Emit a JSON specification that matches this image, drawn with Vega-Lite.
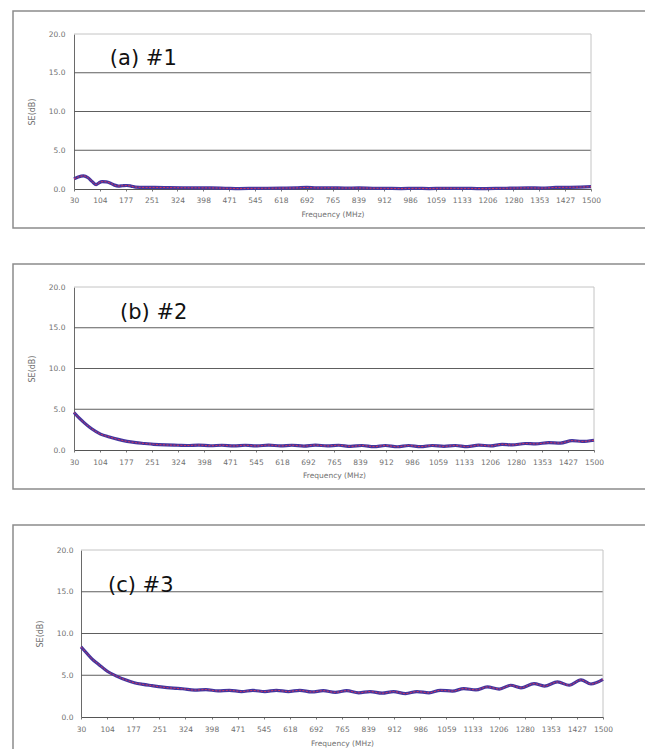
{
  "$schema": "https://vega.github.io/schema/vega-lite/v6.json",
  "padding": {"left": 12, "top": 10, "right": 0, "bottom": 0},
  "background": "white",
  "spacing": 34,
  "config": {
    "view": {"stroke": "#8c8c8c", "strokeWidth": 1.5},
    "font": "DejaVu Sans",
    "axis": {"labelFont": "DejaVu Sans", "labelFontSize": 7.5, "labelColor": "#707070", "titleFont": "DejaVu Sans", "titleFontSize": 7.5, "titleFontWeight": "normal", "titleColor": "#707070", "grid": false, "labelFlush": false, "labelOverlap": false}
  },
  "datasets": {
    "se": [
      {"p": "a", "f": 30, "se": 1.3}, {"p": "a", "f": 42, "se": 1.55}, {"p": "a", "f": 57, "se": 1.7}, {"p": "a", "f": 70, "se": 1.45}, {"p": "a", "f": 82, "se": 0.95}, {"p": "a", "f": 93, "se": 0.55}, {"p": "a", "f": 101, "se": 0.8}, {"p": "a", "f": 110, "se": 0.95}, {"p": "a", "f": 122, "se": 0.92}, {"p": "a", "f": 134, "se": 0.75}, {"p": "a", "f": 145, "se": 0.5}, {"p": "a", "f": 156, "se": 0.38}, {"p": "a", "f": 168, "se": 0.42}, {"p": "a", "f": 180, "se": 0.45}, {"p": "a", "f": 192, "se": 0.38}, {"p": "a", "f": 205, "se": 0.25}, {"p": "a", "f": 230, "se": 0.2}, {"p": "a", "f": 260, "se": 0.2}, {"p": "a", "f": 300, "se": 0.18}, {"p": "a", "f": 340, "se": 0.16}, {"p": "a", "f": 380, "se": 0.15}, {"p": "a", "f": 420, "se": 0.14}, {"p": "a", "f": 460, "se": 0.1}, {"p": "a", "f": 500, "se": 0.06}, {"p": "a", "f": 540, "se": 0.08}, {"p": "a", "f": 580, "se": 0.1}, {"p": "a", "f": 620, "se": 0.12}, {"p": "a", "f": 660, "se": 0.14}, {"p": "a", "f": 692, "se": 0.2}, {"p": "a", "f": 720, "se": 0.14}, {"p": "a", "f": 760, "se": 0.16}, {"p": "a", "f": 800, "se": 0.12}, {"p": "a", "f": 840, "se": 0.14}, {"p": "a", "f": 880, "se": 0.1}, {"p": "a", "f": 920, "se": 0.08}, {"p": "a", "f": 960, "se": 0.06}, {"p": "a", "f": 1000, "se": 0.08}, {"p": "a", "f": 1040, "se": 0.06}, {"p": "a", "f": 1080, "se": 0.1}, {"p": "a", "f": 1120, "se": 0.08}, {"p": "a", "f": 1160, "se": 0.07}, {"p": "a", "f": 1200, "se": 0.05}, {"p": "a", "f": 1240, "se": 0.08}, {"p": "a", "f": 1280, "se": 0.12}, {"p": "a", "f": 1320, "se": 0.15}, {"p": "a", "f": 1360, "se": 0.12}, {"p": "a", "f": 1400, "se": 0.2}, {"p": "a", "f": 1440, "se": 0.22}, {"p": "a", "f": 1470, "se": 0.25}, {"p": "a", "f": 1500, "se": 0.3},
      {"p": "b", "f": 30, "se": 4.6}, {"p": "b", "f": 45, "se": 3.9}, {"p": "b", "f": 60, "se": 3.3}, {"p": "b", "f": 80, "se": 2.6}, {"p": "b", "f": 105, "se": 1.95}, {"p": "b", "f": 130, "se": 1.6}, {"p": "b", "f": 155, "se": 1.3}, {"p": "b", "f": 180, "se": 1.05}, {"p": "b", "f": 205, "se": 0.9}, {"p": "b", "f": 230, "se": 0.8}, {"p": "b", "f": 255, "se": 0.7}, {"p": "b", "f": 290, "se": 0.62}, {"p": "b", "f": 324, "se": 0.58}, {"p": "b", "f": 350, "se": 0.55}, {"p": "b", "f": 382, "se": 0.6}, {"p": "b", "f": 416, "se": 0.52}, {"p": "b", "f": 448, "se": 0.58}, {"p": "b", "f": 482, "se": 0.5}, {"p": "b", "f": 514, "se": 0.58}, {"p": "b", "f": 548, "se": 0.5}, {"p": "b", "f": 580, "se": 0.6}, {"p": "b", "f": 614, "se": 0.5}, {"p": "b", "f": 646, "se": 0.58}, {"p": "b", "f": 680, "se": 0.48}, {"p": "b", "f": 712, "se": 0.6}, {"p": "b", "f": 746, "se": 0.5}, {"p": "b", "f": 778, "se": 0.58}, {"p": "b", "f": 812, "se": 0.45}, {"p": "b", "f": 844, "se": 0.55}, {"p": "b", "f": 878, "se": 0.42}, {"p": "b", "f": 910, "se": 0.55}, {"p": "b", "f": 944, "se": 0.4}, {"p": "b", "f": 976, "se": 0.55}, {"p": "b", "f": 1010, "se": 0.42}, {"p": "b", "f": 1042, "se": 0.55}, {"p": "b", "f": 1076, "se": 0.45}, {"p": "b", "f": 1108, "se": 0.55}, {"p": "b", "f": 1142, "se": 0.42}, {"p": "b", "f": 1174, "se": 0.6}, {"p": "b", "f": 1208, "se": 0.5}, {"p": "b", "f": 1240, "se": 0.7}, {"p": "b", "f": 1269, "se": 0.62}, {"p": "b", "f": 1306, "se": 0.8}, {"p": "b", "f": 1335, "se": 0.75}, {"p": "b", "f": 1372, "se": 0.9}, {"p": "b", "f": 1405, "se": 0.85}, {"p": "b", "f": 1438, "se": 1.15}, {"p": "b", "f": 1466, "se": 1.05}, {"p": "b", "f": 1500, "se": 1.2},
      {"p": "c", "f": 30, "se": 8.4}, {"p": "c", "f": 45, "se": 7.7}, {"p": "c", "f": 60, "se": 7.0}, {"p": "c", "f": 80, "se": 6.3}, {"p": "c", "f": 105, "se": 5.45}, {"p": "c", "f": 130, "se": 4.9}, {"p": "c", "f": 155, "se": 4.45}, {"p": "c", "f": 180, "se": 4.1}, {"p": "c", "f": 205, "se": 3.9}, {"p": "c", "f": 230, "se": 3.75}, {"p": "c", "f": 255, "se": 3.6}, {"p": "c", "f": 290, "se": 3.45}, {"p": "c", "f": 316, "se": 3.38}, {"p": "c", "f": 350, "se": 3.22}, {"p": "c", "f": 382, "se": 3.28}, {"p": "c", "f": 416, "se": 3.12}, {"p": "c", "f": 448, "se": 3.2}, {"p": "c", "f": 482, "se": 3.05}, {"p": "c", "f": 514, "se": 3.18}, {"p": "c", "f": 548, "se": 3.05}, {"p": "c", "f": 580, "se": 3.2}, {"p": "c", "f": 614, "se": 3.05}, {"p": "c", "f": 646, "se": 3.2}, {"p": "c", "f": 680, "se": 3.0}, {"p": "c", "f": 712, "se": 3.15}, {"p": "c", "f": 746, "se": 2.95}, {"p": "c", "f": 778, "se": 3.15}, {"p": "c", "f": 812, "se": 2.9}, {"p": "c", "f": 844, "se": 3.05}, {"p": "c", "f": 878, "se": 2.85}, {"p": "c", "f": 910, "se": 3.05}, {"p": "c", "f": 944, "se": 2.8}, {"p": "c", "f": 976, "se": 3.05}, {"p": "c", "f": 1010, "se": 2.9}, {"p": "c", "f": 1042, "se": 3.2}, {"p": "c", "f": 1076, "se": 3.1}, {"p": "c", "f": 1108, "se": 3.4}, {"p": "c", "f": 1142, "se": 3.25}, {"p": "c", "f": 1174, "se": 3.6}, {"p": "c", "f": 1208, "se": 3.35}, {"p": "c", "f": 1240, "se": 3.8}, {"p": "c", "f": 1269, "se": 3.5}, {"p": "c", "f": 1306, "se": 4.0}, {"p": "c", "f": 1335, "se": 3.7}, {"p": "c", "f": 1372, "se": 4.2}, {"p": "c", "f": 1405, "se": 3.8}, {"p": "c", "f": 1438, "se": 4.45}, {"p": "c", "f": 1466, "se": 3.95}, {"p": "c", "f": 1500, "se": 4.5}
    ],
    "grid": [{"g": 5}, {"g": 10}, {"g": 15}],
    "one": [{}]
  },
  "vconcat": [
    {
      "width": 633, "height": 217,
      "resolve": {"axis": {"x": "independent", "y": "independent"}},
      "layer": [
        {"data": {"name": "grid"}, "mark": {"type": "rule", "color": "#5e5e5e", "strokeWidth": 1},
         "encoding": {"x": {"datum": 30, "type": "quantitative", "scale": {"domain": [30, 1500], "range": [61, 578], "nice": false, "zero": false},
                 "axis": {"orient": "bottom", "offset": -39, "values": [30, 103.5, 177, 250.5, 324, 397.5, 471, 544.5, 618, 691.5, 765, 838.5, 912, 985.5, 1059, 1132.5, 1206, 1279.5, 1353, 1426.5, 1500], "format": ".0f", "title": "Frequency (MHz)", "domainColor": "#555555", "tickColor": "#777777", "tickSize": 2, "labelPadding": 5, "titlePadding": 7}},
                      "x2": {"datum": 1500},
                      "y": {"field": "g", "type": "quantitative", "scale": {"domain": [0, 20], "range": [178, 23], "nice": false, "zero": false},
                 "axis": {"orient": "left", "offset": -61, "values": [0, 5, 10, 15, 20], "format": ".1f", "title": "SE(dB)", "titleFontSize": 8, "domainColor": "#6a6a6a", "ticks": false, "labelPadding": 9, "titlePadding": 12}}}},
        {"data": {"name": "one"}, "mark": {"type": "rule", "color": "#c4c4c4", "strokeWidth": 1},
         "encoding": {"x": {"datum": 30, "type": "quantitative", "axis": null}, "x2": {"datum": 1500}, "y": {"datum": 20, "type": "quantitative", "axis": null}}},
        {"data": {"name": "one"}, "mark": {"type": "rule", "color": "#c4c4c4", "strokeWidth": 1},
         "encoding": {"x": {"datum": 1500, "type": "quantitative", "axis": null}, "y": {"datum": 0, "type": "quantitative", "axis": null}, "y2": {"datum": 20}}},
        {"data": {"name": "se"}, "transform": [{"filter": "datum.p === 'a'"}],
         "mark": {"type": "line", "color": "#43369f", "strokeWidth": 3.2, "interpolate": "monotone"},
         "encoding": {"x": {"field": "f", "type": "quantitative", "axis": null}, "y": {"field": "se", "type": "quantitative", "axis": null}}},
        {"data": {"name": "se"}, "transform": [{"filter": "datum.p === 'a'"}],
         "mark": {"type": "line", "color": "#d0345e", "strokeWidth": 1, "strokeDash": [2, 1.5], "interpolate": "monotone"},
         "encoding": {"x": {"field": "f", "type": "quantitative", "axis": null}, "y": {"field": "se", "type": "quantitative", "axis": null}}},
        {"data": {"name": "one"}, "mark": {"type": "text", "align": "left", "baseline": "middle", "fontSize": 21, "font": "DejaVu Sans", "color": "#111111"},
         "encoding": {"x": {"datum": 132, "type": "quantitative", "axis": null}, "y": {"datum": 16.8, "type": "quantitative", "axis": null}, "text": {"value": "(a) #1"}}}
      ]
    },
    {
      "width": 633, "height": 225,
      "resolve": {"axis": {"x": "independent", "y": "independent"}},
      "layer": [
        {"data": {"name": "grid"}, "mark": {"type": "rule", "color": "#5e5e5e", "strokeWidth": 1},
         "encoding": {"x": {"datum": 30, "type": "quantitative", "scale": {"domain": [30, 1500], "range": [61, 581], "nice": false, "zero": false},
                 "axis": {"orient": "bottom", "offset": -39, "values": [30, 103.5, 177, 250.5, 324, 397.5, 471, 544.5, 618, 691.5, 765, 838.5, 912, 985.5, 1059, 1132.5, 1206, 1279.5, 1353, 1426.5, 1500], "format": ".0f", "title": "Frequency (MHz)", "domainColor": "#555555", "tickColor": "#777777", "tickSize": 2, "labelPadding": 6, "titlePadding": 6}},
                      "x2": {"datum": 1500},
                      "y": {"field": "g", "type": "quantitative", "scale": {"domain": [0, 20], "range": [186, 23], "nice": false, "zero": false},
                 "axis": {"orient": "left", "offset": -61, "values": [0, 5, 10, 15, 20], "format": ".1f", "title": "SE(dB)", "titleFontSize": 8, "domainColor": "#6a6a6a", "ticks": false, "labelPadding": 9, "titlePadding": 12}}}},
        {"data": {"name": "one"}, "mark": {"type": "rule", "color": "#c4c4c4", "strokeWidth": 1},
         "encoding": {"x": {"datum": 30, "type": "quantitative", "axis": null}, "x2": {"datum": 1500}, "y": {"datum": 20, "type": "quantitative", "axis": null}}},
        {"data": {"name": "one"}, "mark": {"type": "rule", "color": "#c4c4c4", "strokeWidth": 1},
         "encoding": {"x": {"datum": 1500, "type": "quantitative", "axis": null}, "y": {"datum": 0, "type": "quantitative", "axis": null}, "y2": {"datum": 20}}},
        {"data": {"name": "se"}, "transform": [{"filter": "datum.p === 'b'"}],
         "mark": {"type": "line", "color": "#43369f", "strokeWidth": 3.2, "interpolate": "monotone"},
         "encoding": {"x": {"field": "f", "type": "quantitative", "axis": null}, "y": {"field": "se", "type": "quantitative", "axis": null}}},
        {"data": {"name": "se"}, "transform": [{"filter": "datum.p === 'b'"}],
         "mark": {"type": "line", "color": "#d0345e", "strokeWidth": 1, "strokeDash": [2, 1.5], "interpolate": "monotone"},
         "encoding": {"x": {"field": "f", "type": "quantitative", "axis": null}, "y": {"field": "se", "type": "quantitative", "axis": null}}},
        {"data": {"name": "one"}, "mark": {"type": "text", "align": "left", "baseline": "middle", "fontSize": 21, "font": "DejaVu Sans", "color": "#111111"},
         "encoding": {"x": {"datum": 160, "type": "quantitative", "axis": null}, "y": {"datum": 16.75, "type": "quantitative", "axis": null}, "text": {"value": "(b) #2"}}}
      ]
    },
    {
      "width": 633, "height": 229,
      "resolve": {"axis": {"x": "independent", "y": "independent"}},
      "layer": [
        {"data": {"name": "grid"}, "mark": {"type": "rule", "color": "#5e5e5e", "strokeWidth": 1},
         "encoding": {"x": {"datum": 30, "type": "quantitative", "scale": {"domain": [30, 1500], "range": [68, 590], "nice": false, "zero": false},
                 "axis": {"orient": "bottom", "offset": -37, "values": [30, 103.5, 177, 250.5, 324, 397.5, 471, 544.5, 618, 691.5, 765, 838.5, 912, 985.5, 1059, 1132.5, 1206, 1279.5, 1353, 1426.5, 1500], "format": ".0f", "title": "Frequency (MHz)", "domainColor": "#555555", "tickColor": "#777777", "tickSize": 2, "labelPadding": 6, "titlePadding": 7}},
                      "x2": {"datum": 1500},
                      "y": {"field": "g", "type": "quantitative", "scale": {"domain": [0, 20], "range": [192, 25], "nice": false, "zero": false},
                 "axis": {"orient": "left", "offset": -68, "values": [0, 5, 10, 15, 20], "format": ".1f", "title": "SE(dB)", "titleFontSize": 8, "domainColor": "#6a6a6a", "ticks": false, "labelPadding": 8, "titlePadding": 12}}}},
        {"data": {"name": "one"}, "mark": {"type": "rule", "color": "#c4c4c4", "strokeWidth": 1},
         "encoding": {"x": {"datum": 30, "type": "quantitative", "axis": null}, "x2": {"datum": 1500}, "y": {"datum": 20, "type": "quantitative", "axis": null}}},
        {"data": {"name": "one"}, "mark": {"type": "rule", "color": "#c4c4c4", "strokeWidth": 1},
         "encoding": {"x": {"datum": 1500, "type": "quantitative", "axis": null}, "y": {"datum": 0, "type": "quantitative", "axis": null}, "y2": {"datum": 20}}},
        {"data": {"name": "se"}, "transform": [{"filter": "datum.p === 'c'"}],
         "mark": {"type": "line", "color": "#43369f", "strokeWidth": 3.2, "interpolate": "monotone"},
         "encoding": {"x": {"field": "f", "type": "quantitative", "axis": null}, "y": {"field": "se", "type": "quantitative", "axis": null}}},
        {"data": {"name": "se"}, "transform": [{"filter": "datum.p === 'c'"}],
         "mark": {"type": "line", "color": "#d0345e", "strokeWidth": 1, "strokeDash": [2, 1.5], "interpolate": "monotone"},
         "encoding": {"x": {"field": "f", "type": "quantitative", "axis": null}, "y": {"field": "se", "type": "quantitative", "axis": null}}},
        {"data": {"name": "one"}, "mark": {"type": "text", "align": "left", "baseline": "middle", "fontSize": 21, "font": "DejaVu Sans", "color": "#111111"},
         "encoding": {"x": {"datum": 106, "type": "quantitative", "axis": null}, "y": {"datum": 15.65, "type": "quantitative", "axis": null}, "text": {"value": "(c) #3"}}}
      ]
    }
  ]
}
